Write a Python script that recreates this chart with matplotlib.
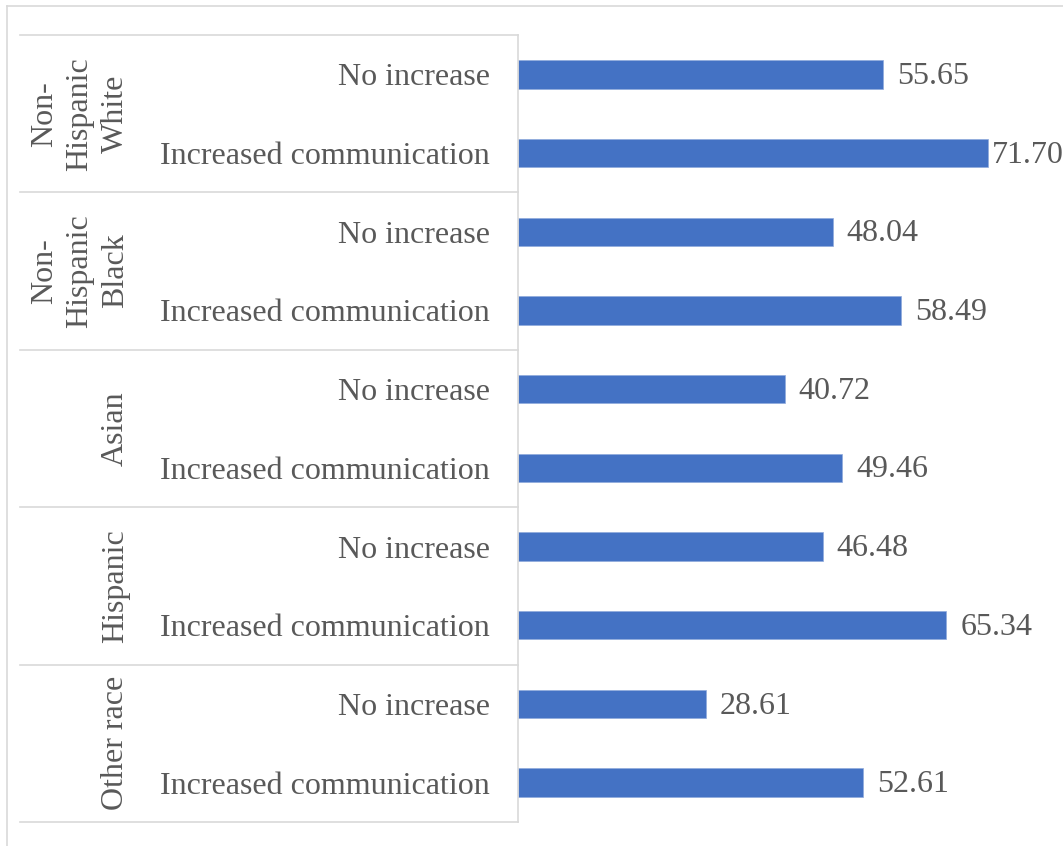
import matplotlib
matplotlib.use("Agg")
import matplotlib.pyplot as plt
from matplotlib.lines import Line2D
import matplotlib.transforms as mtransforms

groups = ["Non-\nHispanic\nWhite", "Non-\nHispanic\nBlack", "Asian", "Hispanic", "Other race"]
subcats = ["No increase", "Increased communication"]
values = [55.65, 71.70, 48.04, 58.49, 40.72, 49.46, 46.48, 65.34, 28.61, 52.61]

W, H = 1063, 846
fig = plt.figure(figsize=(W / 100, H / 100), dpi=100)
plt.rcParams['font.family'] = ['Liberation Serif', 'DejaVu Serif']

ax_l, ax_r = 518 / W, 1.0
ax_t, ax_b = 1 - 35 / H, 1 - 822 / H
ax = fig.add_axes([ax_l, ax_b, ax_r - ax_l, ax_t - ax_b])

text_color = "#595959"
line_color = "#d9d9d9"
bar_color = "#4472c4"
fs = 23

n = len(values)
ypos = list(range(n))
ax.barh(ypos, values, height=0.36, color=bar_color, edgecolor="#8faadc", linewidth=0.5)
ax.set_ylim(n - 0.5, -0.5)
ax.set_xlim(0, (W - 518) / ((988 - 518) / 71.70))

labels = [subcats[i % 2] for i in range(n)]
ax.set_yticks(ypos)
ax.set_yticklabels(labels, fontsize=fs, color=text_color)
ax.tick_params(axis='y', length=0, pad=20)
ax.set_xticks([])
for s in ["top", "right", "bottom"]:
    ax.spines[s].set_visible(False)
ax.spines["left"].set_color(line_color)
ax.spines["left"].set_linewidth(1.2)

vmax = max(values)
for y, v in zip(ypos, values):
    off = 3 if v == vmax else 10
    ax.annotate(f"{v:.2f}", (v, y), xytext=(off, -1.5), textcoords="offset points",
                va="center", ha="left", fontsize=fs, color=text_color, annotation_clip=False)

# group separators and labels
trans = mtransforms.blended_transform_factory(fig.transFigure, ax.transData)
for g in range(len(groups) + 1):
    yb = g * 2 - 0.5
    ax.add_line(Line2D([20 / W, ax_l], [yb, yb], transform=trans, color=line_color,
                       lw=1.2, clip_on=False))
for g, name in enumerate(groups):
    yc = g * 2 + 0.5
    ax.text(130 / W, yc, name, transform=trans, rotation=90, ha="right", va="center",
            multialignment="center", fontsize=fs, color=text_color, linespacing=1.3)

# outer chart border
fig.add_artist(Line2D([7 / W, 7 / W], [0, 1 - 6 / H], transform=fig.transFigure,
                      color=line_color, lw=1.2))
fig.add_artist(Line2D([7 / W, 1], [1 - 6 / H, 1 - 6 / H], transform=fig.transFigure,
                      color=line_color, lw=1.2))

fig.savefig("out.png", dpi=100)
